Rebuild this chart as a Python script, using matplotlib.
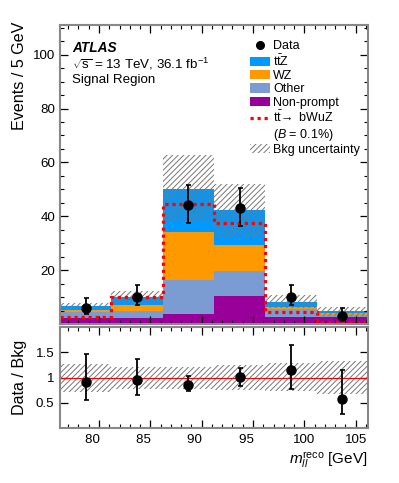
import numpy as np
import matplotlib
matplotlib.use("Agg")
import matplotlib.pyplot as plt
from matplotlib.patches import Patch
from matplotlib.lines import Line2D
from matplotlib.ticker import MultipleLocator, FixedLocator

plt.rcParams['font.family'] = ['Liberation Sans', 'DejaVu Sans']
plt.rcParams['mathtext.fontset'] = 'custom'
plt.rcParams['mathtext.rm'] = 'Liberation Sans'
plt.rcParams['mathtext.it'] = 'Liberation Sans:italic'
plt.rcParams['mathtext.bf'] = 'Liberation Sans:bold'
plt.rcParams['hatch.linewidth'] = 0.7
plt.rcParams['hatch.color'] = '#777777'

# ---- data ----
bin_edges = [76.2, 81.2, 86.2, 91.2, 96.2, 101.2, 106.2]
bin_centers = [78.7, 83.7, 88.7, 93.7, 98.7, 103.7]

nonprompt = [2.1, 2.2, 3.6, 10.4, 2.7, 2.5]
other = [2.3, 2.7, 12.7, 9.3, 2.7, 1.0]
wz = [0.8, 2.1, 17.7, 9.6, 0.8, 0.5]
ttz = [1.6, 3.0, 16.3, 12.9, 2.1, 0.7]

bkg_unc = [1.0, 2.1, 12.3, 9.9, 2.4, 1.7]

signal = [2.7, 9.9, 44.7, 37.5, 4.6, 0.9]

data = [6, 10, 44, 43, 10, 3]
data_err_up = [3.6, 4.3, 7.7, 7.6, 4.3, 2.9]
data_err_dn = [2.4, 3.1, 6.6, 6.5, 3.1, 1.6]

ratio = [0.92, 0.96, 0.86, 1.01, 1.15, 0.57]
ratio_hi = [1.47, 1.37, 1.02, 1.18, 1.65, 1.15]
ratio_lo = [0.55, 0.66, 0.74, 0.84, 0.78, 0.27]

ratio_band_hi = [1.27, 1.20, 1.20, 1.25, 1.28, 1.33]
ratio_band_lo = [0.71, 0.78, 0.78, 0.75, 0.73, 0.68]

x_ticks = [80, 85, 90, 95, 100, 105]
x_ticklabels = ["80", "85", "90", "95", "100", "105"]
y_ticks_main = [20, 40, 60, 80, 100]
y_ticks_ratio = [0.5, 1, 1.5]
y_ticklabels_ratio = ["0.5", "1", "1.5"]

# ---- colours ----
c_ttz = '#0099ff'
c_wz = '#ff9900'
c_other = '#7b9bd3'
c_np = '#990099'
frame_col = '#888888'

fig = plt.figure(figsize=(3.99, 4.83), dpi=100)
ax = fig.add_axes([60/399, 1-324/483, 308/399, 299/483])
axr = fig.add_axes([60/399, 1-428/483, 308/399, 101/483])

edges = np.array(bin_edges)
centers = np.array(bin_centers)
comps = [(nonprompt, c_np), (other, c_other), (wz, c_wz), (ttz, c_ttz)]
base = np.zeros(len(centers))
for vals, col in comps:
    top = base + np.array(vals)
    ax.stairs(top, edges, baseline=base, fill=True, color=col, linewidth=0)
    base = top
bkg = base

unc = np.array(bkg_unc)
ax.bar(centers, 2*unc, bottom=bkg-unc, width=np.diff(edges), fill=False,
       hatch='//////', edgecolor='#777777', linewidth=0)

ax.stairs(signal, edges, baseline=None, color='#ff0000', linewidth=2.3,
          linestyle=(0, (1, 1.2)))

yerr = [data_err_dn, data_err_up]
ax.errorbar(centers, data, yerr=yerr, fmt='o', color='black', markersize=6.5,
            elinewidth=1.3, capsize=1.8, capthick=1.2, zorder=5)

ax.set_xlim(76.2, 106.2)
ax.set_ylim(0, 111)

# ratio
rhi = np.array(ratio_band_hi)
rlo = np.array(ratio_band_lo)
axr.bar(centers, rhi-rlo, bottom=rlo, width=np.diff(edges), fill=False,
        hatch='//////', edgecolor='#777777', linewidth=0)
axr.axhline(1.0, color='#ff0000', linewidth=0.8, zorder=2)
r = np.array(ratio)
rerr = [r - np.array(ratio_lo), np.array(ratio_hi) - r]
axr.errorbar(centers, r, yerr=rerr, fmt='o', color='black', markersize=6.5,
             elinewidth=1.3, capsize=1.8, capthick=1.2, zorder=5)
axr.set_xlim(76.2, 106.2)
axr.set_ylim(0, 2.0)

for a in (ax, axr):
    for s in a.spines.values():
        s.set_color(frame_col)
        s.set_linewidth(1.5)
    a.tick_params(which='both', direction='in', top=True, right=True, color='black')
    a.xaxis.set_major_locator(FixedLocator(x_ticks))
    a.xaxis.set_minor_locator(MultipleLocator(1))

ax.tick_params(which='major', length=6, width=0.9, labelsize=9.6)
ax.tick_params(which='minor', length=3, width=0.8)
ax.tick_params(axis='x', labelbottom=False)
ax.yaxis.set_major_locator(FixedLocator(y_ticks_main))
ax.yaxis.set_minor_locator(MultipleLocator(5))

axr.tick_params(which='major', length=6, width=0.9, labelsize=9.6, pad=4)
axr.tick_params(which='minor', length=3, width=0.8)
axr.yaxis.set_major_locator(FixedLocator(y_ticks_ratio))
axr.set_yticklabels(y_ticklabels_ratio)
axr.yaxis.set_minor_locator(FixedLocator([]))
# ROOT-style: two-digit labels sit slightly left of their tick
axr.set_xticklabels([t + "\u2002\u2002" if len(t) == 2 else t for t in x_ticklabels])

ax.set_ylabel('Events / 5 GeV', fontsize=11.6)
ax.yaxis.set_label_coords(-0.131, 1.01)
ax.yaxis.label.set_va('center')
ax.yaxis.label.set_ha('right')
axr.set_ylabel('Data / Bkg', fontsize=11.6)
axr.yaxis.set_label_coords(-0.131, 0.875)
axr.yaxis.label.set_va('center')
axr.yaxis.label.set_ha('right')
axr.set_xlabel(r'$m_{ll}^{\rm reco}$ [GeV]', fontsize=11)
axr.xaxis.set_label_coords(1.0, -0.32)
axr.xaxis.label.set_ha('right')
axr.xaxis.label.set_va('center')

ax.text(0.039, 0.924, 'ATLAS', transform=ax.transAxes, fontsize=9.8,
        fontweight='bold', fontstyle='italic', va='center', ha='left')
ax.text(0.039, 0.870, r'$\sqrt{\rm s}$ = 13 TeV, 36.1 fb$^{-1}$', transform=ax.transAxes,
        fontsize=9.6, va='center', ha='left')
ax.text(0.039, 0.816, 'Signal Region', transform=ax.transAxes, fontsize=9.6,
        va='center', ha='left')

handles = [
    Line2D([], [], marker='o', color='black', linestyle='none', markersize=5.5),
    Patch(facecolor=c_ttz, edgecolor='none'),
    Patch(facecolor=c_wz, edgecolor='none'),
    Patch(facecolor=c_other, edgecolor='none'),
    Patch(facecolor=c_np, edgecolor='none'),
    Line2D([], [], color='#ff0000', linewidth=2.3, linestyle=(0, (1, 1.2))),
    Line2D([], [], linestyle='none'),
    Patch(facecolor='none', edgecolor='#777777', hatch='//////', linewidth=0),
]
labels = ['Data', r't$\bar{\rm t}$Z', 'WZ', 'Other', 'Non-prompt',
          r't$\bar{\rm t}\!\rightarrow$ bWuZ', r'($\it{B}$ = 0.1%)', 'Bkg uncertainty']
leg = ax.legend(handles, labels, loc='upper left', bbox_to_anchor=(0.617, 0.949),
                frameon=False, fontsize=9, handlelength=1.6, handleheight=0.75,
                handletextpad=0.25, labelspacing=0.1, borderaxespad=0, borderpad=0)

fig.savefig('out.png', dpi=100)
